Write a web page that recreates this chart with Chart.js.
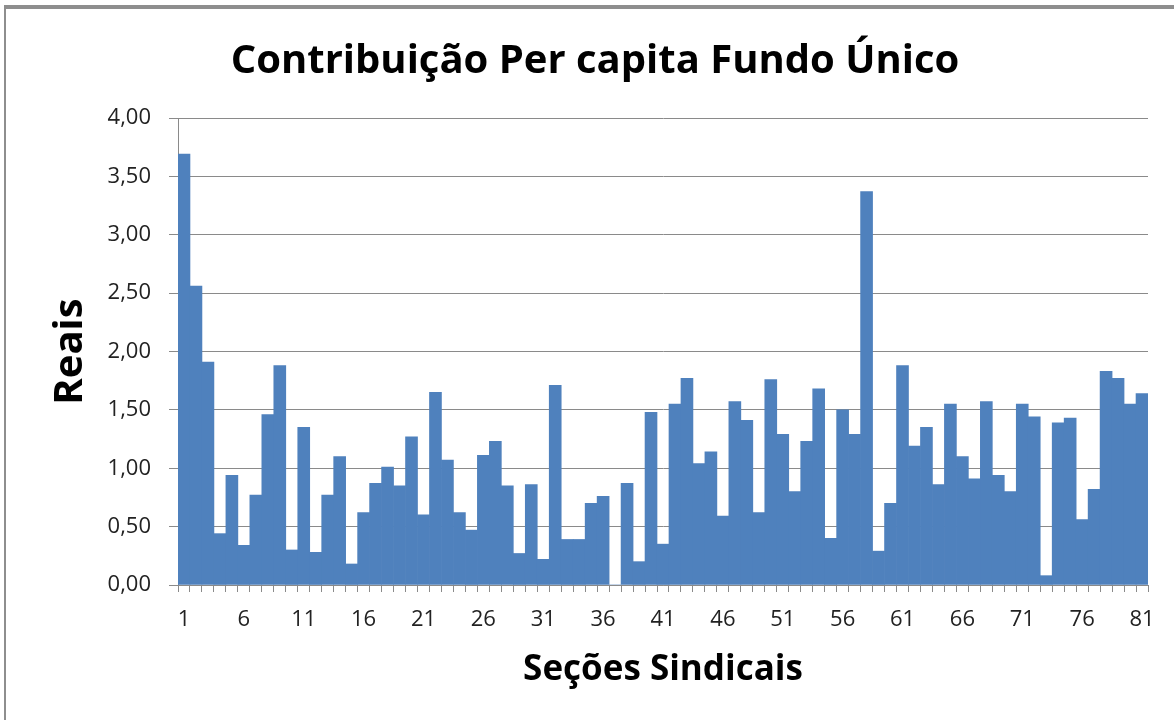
<!DOCTYPE html>
<html>
<head>
<meta charset="utf-8">
<script src="https://cdn.jsdelivr.net/npm/chart.js@4"></script>
<style>
    body { margin: 0; background: #fff; }
    #wrap { position: relative; width: 1174px; height: 720px; overflow: hidden; }
    #frame {
        position: absolute; left: 4px; top: 5px; right: -10px; bottom: -10px;
        border-left: 2px solid #8e8e8e; border-top: 4px solid #8e8e8e;
    }
    #chart { position: absolute; left: 0; top: 0; }
</style>
</head>
<body>
<div id="wrap">
    <div id="frame"></div>
    <canvas id="chart" width="1174" height="720"></canvas>
</div>
<script>
//data
const secoes = [
    '1','2','3','4','5','6','7','8','9','10',
    '11','12','13','14','15','16','17','18','19','20',
    '21','22','23','24','25','26','27','28','29','30',
    '31','32','33','34','35','36','37','38','39','40',
    '41','42','43','44','45','46','47','48','49','50',
    '51','52','53','54','55','56','57','58','59','60',
    '61','62','63','64','65','66','67','68','69','70',
    '71','72','73','74','75','76','77','78','79','80',
    '81'
];
const reais = [
    3.69, 2.56, 1.91, 0.44, 0.94, 0.34, 0.77, 1.46, 1.88, 0.30,
    1.35, 0.28, 0.77, 1.10, 0.18, 0.62, 0.87, 1.01, 0.85, 1.27,
    0.60, 1.65, 1.07, 0.62, 0.47, 1.11, 1.23, 0.85, 0.27, 0.86,
    0.22, 1.71, 0.39, 0.39, 0.70, 0.76, 0.00, 0.87, 0.20, 1.48,
    0.35, 1.55, 1.77, 1.04, 1.14, 0.59, 1.57, 1.41, 0.62, 1.76,
    1.29, 0.80, 1.23, 1.68, 0.40, 1.50, 1.29, 3.37, 0.29, 0.70,
    1.88, 1.19, 1.35, 0.86, 1.55, 1.10, 0.91, 1.57, 0.94, 0.80,
    1.55, 1.44, 0.08, 1.39, 1.43, 0.56, 0.82, 1.83, 1.77, 1.55,
    1.64
];
const yMin = 0, yMax = 4, yStep = 0.5;

const gray = '#8a8a8a';
const tickFont = { family: 'Open Sans', size: 22 };

const ctx = document.getElementById('chart').getContext('2d');
const chart = new Chart(ctx, {
    type: 'bar',
    data: {
        labels: secoes,
        datasets: [{
            data: reais,
            backgroundColor: '#4f81bd',
            borderWidth: 0,
            barPercentage: 1,
            categoryPercentage: 1,
        }]
    },
    options: {
        responsive: false,
        animation: false,
        devicePixelRatio: 1,
        // left padding pushes the title centre to the right, like the reference
        layout: { padding: { left: 42, right: 26, top: 0, bottom: 0 } },
        plugins: {
            legend: { display: false },
            tooltip: { enabled: false },
            title: {
                display: true,
                text: 'Contribuição Per capita Fundo Único',
                color: '#000',
                font: { family: 'Open Sans', size: 40, weight: 'bold', lineHeight: 1.2 },
                padding: { top: 38, bottom: 32 },
            }
        },
        scales: {
            x: {
                afterFit: (scale) => { scale.height = 135; },
                grid: {
                    display: true,
                    drawOnChartArea: false,
                    color: gray,
                    tickLength: 7,
                    offset: true,
                },
                border: { color: gray },
                ticks: {
                    autoSkip: false,
                    maxRotation: 0,
                    color: '#222',
                    font: tickFont,
                    padding: 15,
                    callback: (v, i) => (i % 5 === 0 ? secoes[i] : ''),
                },
                title: {
                    display: true,
                    text: 'Seções Sindicais',
                    color: '#000',
                    font: { family: 'Open Sans', size: 35, weight: 'bold', lineHeight: 1.2 },
                    padding: { top: 0, bottom: 29 },
                }
            },
            y: {
                min: yMin,
                max: yMax,
                afterFit: (scale) => { scale.width = 136; },
                grid: { color: gray, tickLength: 9 },
                border: { color: gray },
                ticks: {
                    stepSize: yStep,
                    color: '#222',
                    font: tickFont,
                    padding: 18,
                    callback: (v) => v.toFixed(2).replace('.', ','),
                },
                title: {
                    display: true,
                    text: 'Reais',
                    color: '#000',
                    font: { family: 'Open Sans', size: 40, weight: 'bold', lineHeight: 1.2 },
                    padding: { top: 5, bottom: 0 },
                }
            }
        }
    }
});
</script>
</body>
</html>
